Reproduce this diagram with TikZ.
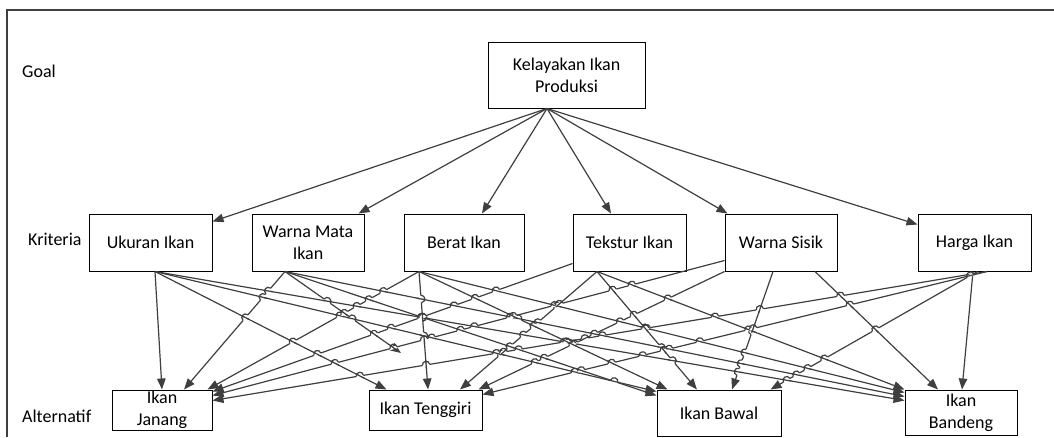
\documentclass[tikz,border=0pt]{standalone}
\usepackage{fontspec}
\setmainfont{Carlito}
\usetikzlibrary{calc,arrows.meta}
\definecolor{linegray}{HTML}{3F3F3F}
\tikzset{
  box/.style={draw=black, line width=1pt, fill=white, inner sep=0pt, align=center,
    font=\fontsize{18}{22}\selectfont},
  lbl/.style={inner sep=0pt, anchor=base west, font=\fontsize{18}{22}\selectfont},
  conn/.style={draw=linegray, line width=1.2pt, -{Triangle[length=11pt,width=8.5pt]}},
  outerframe/.style={draw=linegray, line width=1.3pt},
  hoperase/.style={draw=white, line width=2.8pt},
  hopline/.style={draw=linegray, line width=1.2pt},
}
% draw a connector and remember its end points (for line hops)
\newcommand\hopedge[3]{%
  \draw[conn] #2 -- #3;
  \path #2; \pgfgetlastxy{\hedgx}{\hedgy}%
  \pgfmathsetmacro\hedga{\hedgx/100}\pgfmathsetmacro\hedgb{\hedgy/100}%
  \expandafter\xdef\csname hpax#1\endcsname{\hedga}%
  \expandafter\xdef\csname hpay#1\endcsname{\hedgb}%
  \path #3; \pgfgetlastxy{\hedgx}{\hedgy}%
  \pgfmathsetmacro\hedga{\hedgx/100}\pgfmathsetmacro\hedgb{\hedgy/100}%
  \expandafter\xdef\csname hpbx#1\endcsname{\hedga}%
  \expandafter\xdef\csname hpby#1\endcsname{\hedgb}%
}
\newcommand\hopdraw{%
  \pgfmathsetmacro\hux{(\hrx)/(\hLi)}\pgfmathsetmacro\huy{(\hry)/(\hLi)}%
  \pgfmathsetmacro\hvx{(\hsx)/(\hLj)}\pgfmathsetmacro\hvy{(\hsy)/(\hLj)}%
  \pgfmathsetmacro\hsg{1-2*((\hux)<0)}%
  \pgfmathsetmacro\hnx{-(\huy)*(\hsg)}\pgfmathsetmacro\hny{(\hux)*(\hsg)}%
  \pgfmathsetmacro\hPx{100*((\hAx)+(\htp)*(\hrx))}%
  \pgfmathsetmacro\hPy{100*((\hAy)+(\htp)*(\hry))}%
  \pgfmathsetmacro\hax{(\hPx)-3.7*(\hux)}\pgfmathsetmacro\hay{(\hPy)-3.7*(\huy)}%
  \pgfmathsetmacro\hbx{(\hPx)+3.7*(\hux)}\pgfmathsetmacro\hby{(\hPy)+3.7*(\huy)}%
  \pgfmathsetmacro\hcax{(\hax)+4.9*(\hnx)}\pgfmathsetmacro\hcay{(\hay)+4.9*(\hny)}%
  \pgfmathsetmacro\hcbx{(\hbx)+4.9*(\hnx)}\pgfmathsetmacro\hcby{(\hby)+4.9*(\hny)}%
  \pgfmathsetmacro\hjax{(\hPx)-4.5*(\hvx)}\pgfmathsetmacro\hjay{(\hPy)-4.5*(\hvy)}%
  \pgfmathsetmacro\hjbx{(\hPx)+4.5*(\hvx)}\pgfmathsetmacro\hjby{(\hPy)+4.5*(\hvy)}%
  \draw[hoperase] (\hax pt,\hay pt) -- (\hbx pt,\hby pt);
  \draw[hopline] (\hjax pt,\hjay pt) -- (\hjbx pt,\hjby pt);
  \draw[hopline] (\hax pt,\hay pt) .. controls (\hcax pt,\hcay pt) and (\hcbx pt,\hcby pt) .. (\hbx pt,\hby pt);
}
\newcommand\hoppair[2]{%
  \edef\hAx{\csname hpax#1\endcsname}\edef\hAy{\csname hpay#1\endcsname}%
  \edef\hBx{\csname hpbx#1\endcsname}\edef\hBy{\csname hpby#1\endcsname}%
  \edef\hCx{\csname hpax#2\endcsname}\edef\hCy{\csname hpay#2\endcsname}%
  \edef\hDx{\csname hpbx#2\endcsname}\edef\hDy{\csname hpby#2\endcsname}%
  \pgfmathsetmacro\hrx{(\hBx)-(\hAx)}\pgfmathsetmacro\hry{(\hBy)-(\hAy)}%
  \pgfmathsetmacro\hsx{(\hDx)-(\hCx)}\pgfmathsetmacro\hsy{(\hDy)-(\hCy)}%
  \pgfmathsetmacro\hden{(\hrx)*(\hsy)-(\hry)*(\hsx)}%
  \pgfmathtruncatemacro\hnonpar{abs(\hden)>0.02}%
  \ifnum\hnonpar=1
    \pgfmathsetmacro\hqx{(\hCx)-(\hAx)}\pgfmathsetmacro\hqy{(\hCy)-(\hAy)}%
    \pgfmathsetmacro\htp{((\hqx)*(\hsy)-(\hqy)*(\hsx))/(\hden)}%
    \pgfmathsetmacro\hup{((\hqx)*(\hry)-(\hqy)*(\hrx))/(\hden)}%
    \pgfmathtruncatemacro\hin{((\htp)>0)&&((\htp)<1)&&((\hup)>0)&&((\hup)<1)}%
    \ifnum\hin=1
      \pgfmathsetmacro\hLi{veclen(\hrx,\hry)}%
      \pgfmathsetmacro\hLj{veclen(\hsx,\hsy)}%
      \pgfmathtruncatemacro\hok{((\htp)*(\hLi)>0.07)&&((1-(\htp))*(\hLi)>0.14)&&((\hup)*(\hLj)>0.04)&&((1-(\hup))*(\hLj)>0.04)}%
      \ifnum\hok=1 \hopdraw\fi
    \fi
  \fi
}
\newcommand\hopall[1]{%
  \foreach \hi in {2,...,#1}{%
    \pgfmathtruncatemacro\hjmax{\hi-1}%
    \foreach \hj in {1,...,\hjmax}{\hoppair{\hi}{\hj}}%
  }%
}
\begin{document}
\begin{tikzpicture}[x=1pt,y=-1pt]
\useasboundingbox (0,0) rectangle (1054,437);
\draw[outerframe] (7,437) -- (7,10) -- (1054,10);

% level labels
\node[lbl] (lgoal) at (22,77) {Goal};
\node[lbl] (lkrit) at (28,245) {Kriteria};
\node[lbl] (lalt) at (22,422) {Alternatif};

% goal
\node[box, minimum width=157pt, minimum height=66pt] (goal) at (566.5,75) {Kelayakan Ikan\\Produksi};
% criteria
\node[box, minimum width=123pt, minimum height=57pt] (uk) at (150.5,242.5) {Ukuran Ikan};
\node[box, minimum width=112pt, minimum height=57pt] (wm) at (308,242.5) {Warna Mata\\Ikan};
\node[box, minimum width=120pt, minimum height=57pt] (br) at (464,242.5) {Berat Ikan};
\node[box, minimum width=113pt, minimum height=57pt] (tk) at (629.5,242.5) {Tekstur Ikan};
\node[box, minimum width=112pt, minimum height=57pt] (ws) at (781,242.5) {Warna Sisik};
\node[box, minimum width=113pt, minimum height=57pt] (hg) at (974.5,242.5) {Harga Ikan};
% alternatives
\node[box, minimum width=100pt, minimum height=40pt] (jn) at (162,410) {Ikan\\Janang};
\node[box, minimum width=113pt, minimum height=40pt] (tg) at (425.5,410) {Ikan Tenggiri};
\node[box, minimum width=124pt, minimum height=46pt] (bw) at (719,413) {Ikan Bawal};
\node[box, minimum width=112pt, minimum height=45pt] (bd) at (961,412.5) {Ikan\\Bandeng};

% goal -> criteria
\draw[conn] ($(goal.south)+(-19.5,0)$) -- ($(uk.north east)+(0,8)$);
\draw[conn] ($(goal.south)+(-19.5,0)$) -- ($(wm.north east)+(-6,0)$);
\draw[conn] ($(goal.south)+(-19.5,0)$) -- ($(br.north)+(18,0)$);
\draw[conn] ($(goal.south)+(-19.5,0)$) -- ($(tk.north)+(-18.5,0)$);
\draw[conn] ($(goal.south)+(-19.5,0)$) -- ($(ws.north west)+(3,0)$);
\draw[conn] ($(goal.south)+(-19.5,0)$) -- ($(hg.north west)+(0,11)$);

% free end of the Warna Mata Ikan -> Ikan Tenggiri connector
\coordinate (wmtg) at (401,353);

% criteria -> alternatives
\hopedge{1}{($(uk.south)+(4.5,0)$)}{(jn.north)}
\hopedge{2}{($(uk.south)+(4.5,0)$)}{($(tg.north west)+(18,0)$)}
\hopedge{3}{($(uk.south)+(4.5,0)$)}{($(bw.north west)+(0,2)$)}
\hopedge{4}{($(uk.south)+(4.5,0)$)}{($(bd.north west)+(0,11)$)}
\hopedge{5}{($(wm.south)+(-23,0)$)}{($(jn.north)+(22,0)$)}
\hopedge{6}{($(wm.south)+(-23,0)$)}{(wmtg)}
\hopedge{7}{($(wm.south)+(-23,0)$)}{($(bw.north west)+(0,6)$)}
\hopedge{8}{($(wm.south)+(-23,0)$)}{($(bd.north west)+(0,7)$)}
\hopedge{9}{($(br.south)+(-45,0)$)}{($(jn.north east)+(-5,0)$)}
\hopedge{10}{($(br.south)+(-45,0)$)}{($(tg.north)+(2.5,0)$)}
\hopedge{11}{($(br.south)+(-45,0)$)}{($(bw.north west)+(11,0)$)}
\hopedge{12}{($(br.south)+(-45,0)$)}{($(bd.north west)+(0,3)$)}
\hopedge{13}{($(tk.south west)+(0,-8)$)}{($(jn.north east)+(0,2)$)}
\hopedge{14}{($(tk.south)+(-32.5,0)$)}{($(tg.north)+(34.5,0)$)}
\hopedge{15}{($(tk.south)+(-32.5,0)$)}{($(bw.north)+(-22,0)$)}
\hopedge{16}{($(tk.south)+(-32.5,0)$)}{(bd.north west)}
\hopedge{17}{($(ws.south west)+(0,-11)$)}{($(jn.north east)+(0,6)$)}
\hopedge{18}{(ws.south west)}{($(tg.north east)+(-4,0)$)}
\hopedge{19}{($(ws.south)+(-8,0)$)}{($(bw.north)+(13,0)$)}
\hopedge{20}{($(ws.south)+(34,0)$)}{($(bd.north)+(-23,0)$)}
\hopedge{21}{($(hg.south)+(12.5,0)$)}{($(jn.north east)+(0,11)$)}
\hopedge{22}{($(hg.south)+(12.5,0)$)}{($(tg.north east)+(0,5)$)}
\hopedge{23}{($(hg.south)+(3,0)$)}{($(bw.north east)+(-11,0)$)}
\hopedge{24}{($(hg.south)+(-1.5,0)$)}{($(bd.north)+(1,0)$)}

% line hops where connectors cross
\hopall{24}
\end{tikzpicture}
\end{document}
